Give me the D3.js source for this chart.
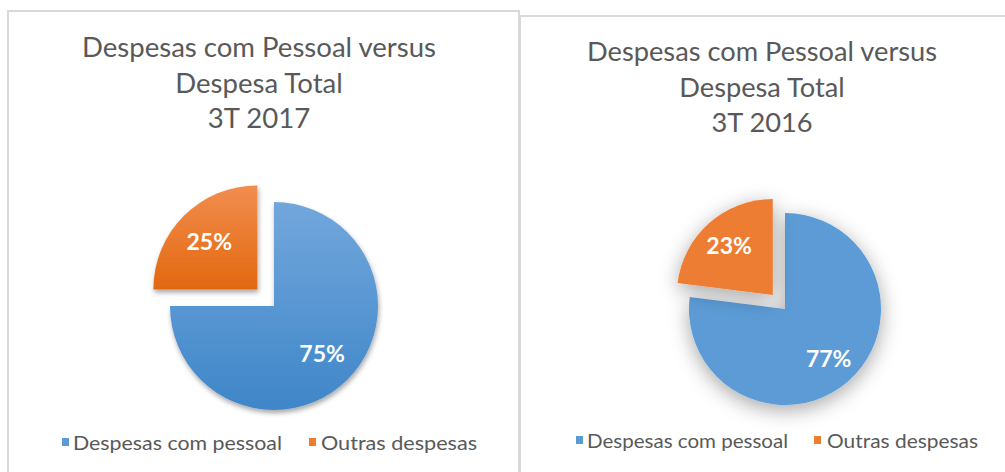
<!DOCTYPE html>
<html>
<head>
<meta charset="utf-8">
<script src="https://cdn.jsdelivr.net/npm/d3@7"></script>
<style>
    body { margin: 0; background: #fff; }
    text { font-family: Lato, "Open Sans", sans-serif; }
</style>
</head>
<body>
<svg id="chart" width="1005" height="472"></svg>
<script>
(() => {

    // data
    const categories = ["Despesas com pessoal", "Outras despesas"];
    const values2017 = [75, 25];
    const values2016 = [77, 23];
    const title2017 = ["Despesas com Pessoal versus", "Despesa Total", "3T 2017"];
    const title2016 = ["Despesas com Pessoal versus", "Despesa Total", "3T 2016"];

    const svg = d3.select("svg#chart");
    const defs = svg.append("defs");

    // gradients for the 2017 chart
    const grads = [
        {id: "gBlue", top: "#72a7dc", bottom: "#3f86c9"},
        {id: "gOrange", top: "#f28d4f", bottom: "#e2680f"},
    ];
    grads.forEach(g => {
        const lg = defs.append("linearGradient")
            .attr("id", g.id)
            .attr("x1", 0).attr("y1", 0).attr("x2", 0).attr("y2", 1);
        lg.append("stop").attr("offset", "0%").attr("stop-color", g.top);
        lg.append("stop").attr("offset", "100%").attr("stop-color", g.bottom);
    });

    defs.append("filter").attr("id", "shadowSmall")
        .attr("x", "-20%").attr("y", "-20%").attr("width", "140%").attr("height", "140%")
        .append("feDropShadow")
        .attr("dx", 1).attr("dy", 3).attr("stdDeviation", 2.5)
        .attr("flood-color", "#000").attr("flood-opacity", 0.35);

    defs.append("filter").attr("id", "shadowWide")
        .attr("x", "-40%").attr("y", "-40%").attr("width", "180%").attr("height", "180%")
        .append("feDropShadow")
        .attr("dx", 0).attr("dy", 5).attr("stdDeviation", 10)
        .attr("flood-color", "#000").attr("flood-opacity", 0.35);

    const charts = [
        {
            values: values2017, title: title2017,
            box: {x: 8, y: 11, w: 511, h: 480},
            titleX: 259, titleY: 57, titleW: 354,
            cx: 274, cy: 306, r: 104, explode: 23.5, labelR: 68,
            fills: ["url(#gBlue)", "url(#gOrange)"], shadow: "url(#shadowSmall)",
            legendY: 443, legend: [{mx: 62, tx: 73, tw: 209}, {mx: 309, tx: 321, tw: 156}],
        },
        {
            values: values2016, title: title2016,
            box: {x: 520, y: 16, w: 500, h: 480},
            titleX: 762, titleY: 61, titleW: 350,
            cx: 785, cy: 309, r: 96, explode: 18.5, labelR: 66,
            fills: ["#5b9bd5", "#ed7d31"], shadow: "url(#shadowWide)",
            legendY: 441, legend: [{mx: 576, tx: 587, tw: 201}, {mx: 814, tx: 827, tw: 151}],
        },
    ];

    const legendColors = ["#5b9bd5", "#ed7d31"];

    charts.forEach(c => {
        const g = svg.append("g");

        // frame
        g.append("rect")
            .attr("x", c.box.x).attr("y", c.box.y)
            .attr("width", c.box.w).attr("height", c.box.h)
            .attr("fill", "#fff")
            .attr("stroke", "#d9d9d9")
            .attr("stroke-width", 2);

        // title
        const title = g.append("g").attr("fill", "#595959");
        const lines = title.selectAll("text")
            .data(c.title)
            .enter().append("text")
            .attr("x", c.titleX)
            .attr("y", (d, i) => c.titleY + i * 35.5)
            .attr("text-anchor", "middle")
            .style("font-size", "24px")
            .text(d => d);
        // scale font so first line matches width in the picture
        const w0 = lines.node().getComputedTextLength();
        lines.style("font-size", (24 * c.titleW / w0).toFixed(2) + "px");

        // pie
        const pie = d3.pie().sort(null).value(d => d);
        const arcs = pie(c.values);
        const arc = d3.arc().innerRadius(0).outerRadius(c.r);
        const labelArc = d3.arc().innerRadius(c.labelR).outerRadius(c.labelR);

        const pieG = g.append("g")
            .attr("transform", `translate(${c.cx},${c.cy})`);

        const slices = pieG.selectAll("g.slice")
            .data(arcs)
            .enter().append("g")
            .attr("class", "slice")
            .attr("transform", (d, i) => {
                if (i === 0) return null;
                const a = (d.startAngle + d.endAngle) / 2;
                return `translate(${Math.sin(a) * c.explode},${-Math.cos(a) * c.explode})`;
            });

        slices.append("path")
            .attr("d", arc)
            .attr("fill", (d, i) => c.fills[i])
            .attr("filter", c.shadow);

        slices.append("text")
            .attr("transform", d => `translate(${labelArc.centroid(d)})`)
            .attr("text-anchor", "middle")
            .attr("dy", "0.36em")
            .attr("fill", "#fff")
            .style("font-size", "23px")
            .style("font-weight", "bold")
            .text(d => d.data + "%");

        // legend
        const leg = g.append("g");
        c.legend.forEach((l, i) => {
            leg.append("rect")
                .attr("x", l.mx).attr("y", c.legendY - 5)
                .attr("width", 7).attr("height", 8)
                .attr("fill", legendColors[i]);
            leg.append("text")
                .attr("x", l.tx).attr("y", c.legendY)
                .attr("dy", "0.35em")
                .attr("fill", "#595959")
                .attr("textLength", l.tw)
                .attr("lengthAdjust", "spacingAndGlyphs")
                .style("font-size", "20px")
                .text(categories[i]);
        });
    });

})();
</script>
</body>
</html>
